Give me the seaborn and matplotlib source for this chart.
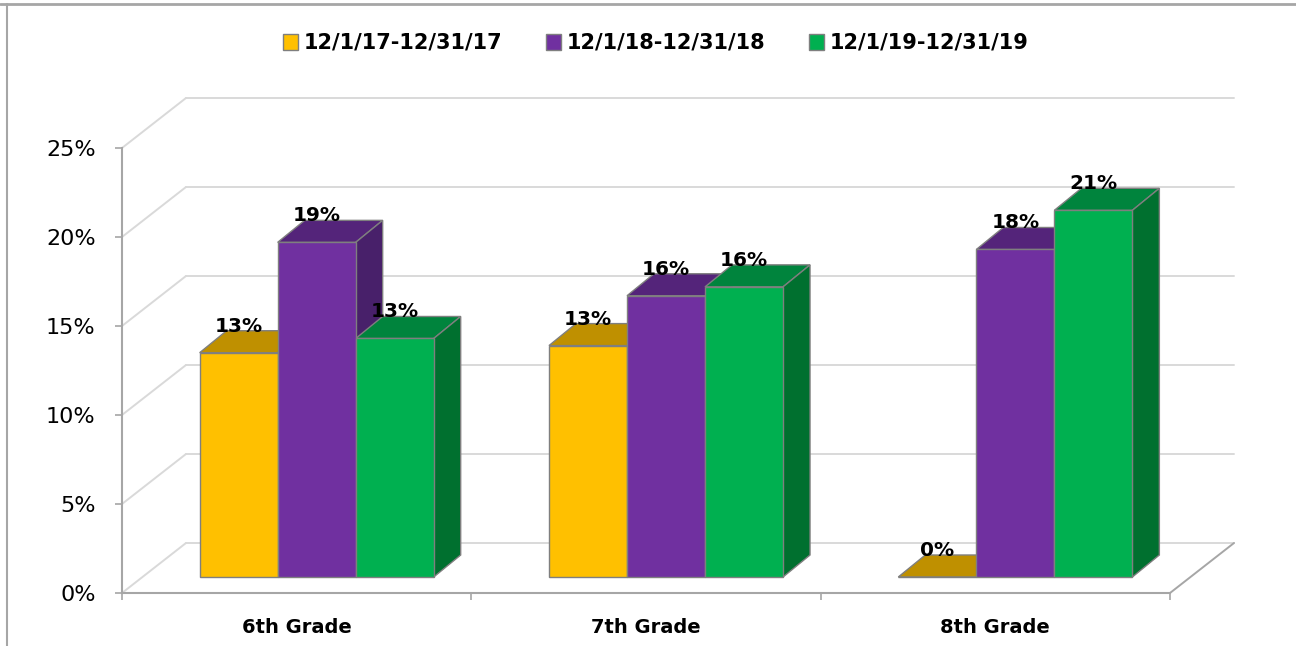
import matplotlib
matplotlib.use("Agg")
import matplotlib.pyplot as plt
from matplotlib.lines import Line2D
from matplotlib.patches import Polygon
from matplotlib.ticker import PercentFormatter
import seaborn as sns
import pandas as pd

# data (fractions)
grades = ["6th Grade", "7th Grade", "8th Grade"]
periods = ["12/1/17-12/31/17", "12/1/18-12/31/18", "12/1/19-12/31/19"]
rate_2017 = [0.126, 0.130, 0.0]
rate_2018 = [0.188, 0.158, 0.184]
rate_2019 = [0.134, 0.163, 0.206]
y_ticks = [0.0, 0.05, 0.10, 0.15, 0.20, 0.25]

front_colors = ["#FFC000", "#7030A0", "#00B050"]
top_colors = ["#BF9000", "#54247A", "#00843D"]
side_colors = ["#9C7600", "#48206A", "#00702F"]
edge = "#7F7F7F"
grid_col = "#D9D9D9"
axis_col = "#A6A6A6"

df = pd.DataFrame({
    "grade": grades * 3,
    "period": [p for p in periods for _ in grades],
    "rate": rate_2017 + rate_2018 + rate_2019,
})

sns.set_theme(style="white")
plt.rcParams["font.family"] = ["DejaVu Sans"]
plt.rcParams["text.color"] = "black"
plt.rcParams["xtick.color"] = "black"
plt.rcParams["ytick.color"] = "black"

W, H, DPI = 1296, 646, 100
fig = plt.figure(figsize=(W / DPI, H / DPI), dpi=DPI)
ax_l, ax_b, ax_w, ax_h = 122, 53, 1048, 445
ax = fig.add_axes([ax_l / W, ax_b / H, ax_w / W, ax_h / H])

sns.barplot(data=df, x="grade", y="rate", hue="period", hue_order=periods,
            palette=front_colors, saturation=1, width=0.67,
            edgecolor=edge, linewidth=1, ax=ax)

ax.set_xlim(-0.5, 2.5)
ax.set_ylim(0, 0.25)

# pixel -> data conversion for the fake 3D offsets
px_x = 3.0 / ax_w
px_y = 0.25 / ax_h
shift_x, shift_y = 20 * px_x, 16 * px_y     # bars sit a bit behind the front plane
depth_x, depth_y = 27 * px_x, 22 * px_y     # bar depth
wall_x, wall_y = 64 * px_x, 50 * px_y       # back wall offset

# back wall + left wall gridlines
for v in y_ticks:
    ax.plot([-0.5, -0.5 + wall_x], [v, v + wall_y], color=grid_col, lw=1.4,
            clip_on=False, zorder=1)
    ax.plot([-0.5 + wall_x, 2.5 + wall_x], [v + wall_y, v + wall_y],
            color=grid_col, lw=1.4, clip_on=False, zorder=1)
ax.plot([2.5, 2.5 + wall_x], [0, wall_y], color=axis_col, lw=1.4,
        clip_on=False, zorder=1)

# turn the flat bars into boxes
for i, cont in enumerate(ax.containers):
    for p in cont.patches:
        x0 = p.get_x() + shift_x
        w = p.get_width()
        h = p.get_height()
        p.set_x(x0)
        p.set_y(shift_y)
        p.set_zorder(4)
        y1 = shift_y + h
        top = [(x0, y1), (x0 + w, y1), (x0 + w + depth_x, y1 + depth_y),
               (x0 + depth_x, y1 + depth_y)]
        ax.add_patch(Polygon(top, closed=True, facecolor=top_colors[i],
                             edgecolor=edge, lw=1, zorder=3, clip_on=False))
        if h > 0:
            side = [(x0 + w, shift_y), (x0 + w, y1),
                    (x0 + w + depth_x, y1 + depth_y),
                    (x0 + w + depth_x, shift_y + depth_y)]
            ax.add_patch(Polygon(side, closed=True, facecolor=side_colors[i],
                                 edgecolor=edge, lw=1, zorder=3, clip_on=False))
        ax.text(x0 + w / 2, y1 + depth_y - 1 * px_y, f"{h:.0%}",
                ha="center", va="baseline", fontsize=14.5, fontweight="bold",
                color="black", zorder=6, clip_on=False)

# axes styling
for s in ["top", "right"]:
    ax.spines[s].set_visible(False)
for s in ["left", "bottom"]:
    ax.spines[s].set_color(axis_col)
    ax.spines[s].set_linewidth(1.5)

ax.set_yticks(y_ticks)
ax.yaxis.set_major_formatter(PercentFormatter(1.0, decimals=0))
ax.tick_params(axis="y", left=True, direction="out", length=5, width=1.2,
               color=axis_col, pad=14, labelsize=16, labelcolor="black")
ax.set_xticks([-0.5, 0.5, 1.5, 2.5], minor=True)
ax.tick_params(axis="x", which="major", bottom=False, length=0, pad=18,
               labelsize=14, labelcolor="black")
ax.tick_params(axis="x", which="minor", bottom=True, direction="out",
               length=5, width=1.2, color=axis_col)
for lab in ax.get_xticklabels():
    lab.set_fontweight("bold")
ax.set_xlabel("")
ax.set_ylabel("")

handles, labels = ax.get_legend_handles_labels()
leg = ax.legend(handles, labels, loc="center",
                bbox_to_anchor=(656 / W, 1 - 43 / H),
                bbox_transform=fig.transFigure, ncol=3, frameon=False,
                prop={"weight": "bold", "size": 15}, handlelength=0.7,
                handleheight=0.8, handletextpad=0.3, columnspacing=2.1)
for t in leg.get_texts():
    t.set_color("black")

# chart border (top and left edges visible in the original)
fig.add_artist(Line2D([0, 1], [1 - 4 / H, 1 - 4 / H], transform=fig.transFigure,
                      color=axis_col, lw=2))
fig.add_artist(Line2D([7 / W, 7 / W], [0, 1 - 4 / H], transform=fig.transFigure,
                      color=axis_col, lw=1.5))

fig.savefig("out.png", dpi=DPI)
